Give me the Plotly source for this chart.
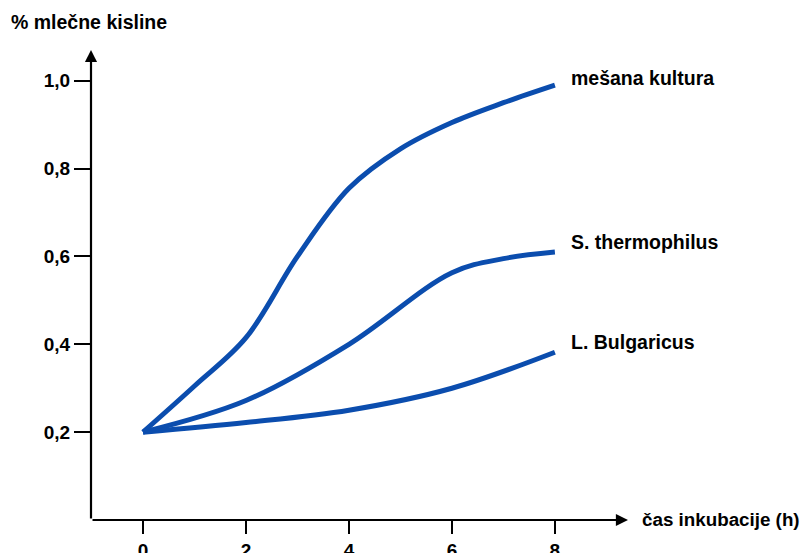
import plotly.graph_objects as go

mesana_x = [0, 1, 2, 3, 4, 5, 6, 7, 8]
mesana = [0.20, 0.305, 0.415, 0.60, 0.755, 0.845, 0.905, 0.95, 0.99]
thermo_x = [0, 2, 4, 6, 7, 8]
thermo = [0.20, 0.272, 0.40, 0.563, 0.595, 0.61]
bulg_x = [0, 2, 4, 6, 8]
bulg = [0.20, 0.222, 0.25, 0.30, 0.382]

x_ticks = [0, 2, 4, 6, 8]
y_ticks = [0.2, 0.4, 0.6, 0.8, 1.0]
y_tick_text = ["0,2", "0,4", "0,6", "0,8", "1,0"]
labels = ["mešana kultura", "S. thermophilus", "L. Bulgaricus"]

BLUE = "#0B4DAE"
FONT = "Liberation Sans"

fig = go.Figure()
for xs, ys, name, ysh in [(mesana_x, mesana, labels[0], 7), (thermo_x, thermo, labels[1], 10),
                          (bulg_x, bulg, labels[2], 10)]:
    fig.add_trace(go.Scatter(x=xs, y=ys, mode="lines", name=name,
                             line=dict(color=BLUE, width=5, shape="spline", smoothing=1.0),
                             showlegend=False))
    fig.add_annotation(x=xs[-1], y=ys[-1], text=name, showarrow=False,
                       xanchor="left", yanchor="middle", xshift=14, yshift=ysh,
                       font=dict(family=FONT, size=19.5, color="black", weight="bold"))

XMIN, XMAX = -1.01, 9.42
YMIN, YMAX = 0.0, 1.07

# axis arrows
fig.add_annotation(x=XMAX, y=YMIN, ax=XMIN, ay=YMIN, xref="x", yref="y", axref="x", ayref="y",
                   text="", showarrow=True, arrowhead=2, arrowsize=1.1, arrowwidth=2.2, arrowcolor="black")
fig.add_annotation(x=XMIN, y=YMAX, ax=XMIN, ay=YMIN, xref="x", yref="y", axref="x", ayref="y",
                   text="", showarrow=True, arrowhead=2, arrowsize=1.1, arrowwidth=2.2, arrowcolor="black")

fig.add_annotation(x=XMAX, y=YMIN, xref="x", yref="y", text="čas inkubacije (h)", showarrow=False,
                   xanchor="left", yanchor="middle", xshift=12, yshift=1,
                   font=dict(family=FONT, size=18.8, color="black", weight="bold"))
fig.add_annotation(x=XMIN, y=YMAX, xref="x", yref="y", text="% mlečne kisline", showarrow=False,
                   xanchor="left", yanchor="middle", xshift=-82, yshift=28,
                   font=dict(family=FONT, size=19.5, color="black", weight="bold"))

fig.update_xaxes(range=[XMIN, XMAX], tickvals=x_ticks, ticktext=[str(v) for v in x_ticks],
                 ticks="outside", ticklen=13, tickwidth=2.2, tickcolor="black",
                 showgrid=False, zeroline=False, showline=False, automargin=False,
                 tickfont=dict(family=FONT, size=19, color="black", weight="bold"))
fig.update_yaxes(range=[YMIN, YMAX], tickvals=y_ticks, ticktext=y_tick_text,
                 ticks="outside", ticklen=16, tickwidth=2.2, tickcolor="black",
                 showgrid=False, zeroline=False, showline=False, automargin=False,
                 tickfont=dict(family=FONT, size=19, color="black", weight="bold"))

fig.update_layout(width=802, height=545, margin=dict(l=83, r=182, t=42, b=33),
                  plot_bgcolor="white", paper_bgcolor="white")

fig.write_html("out.html")
